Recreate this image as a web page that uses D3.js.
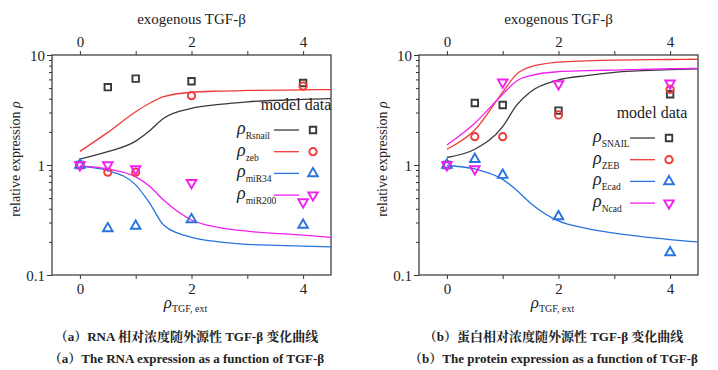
<!DOCTYPE html>
<html>
<head>
<meta charset="utf-8">
<script src="https://cdn.jsdelivr.net/npm/d3@7"></script>
<style>
  body { margin: 0; background: #fff; }
  svg { display: block; }
</style>
</head>
<body>
<svg id="chart" width="718" height="370"></svg>
<script>
// ------------------- Data -------------------
const tgfLevels = [0, 0.5, 1, 2, 4];
const xTicks = [0, 1, 2, 3, 4];
const xTickLabels = ["0", "", "2", "", "4"];
const yTickLabels = { 0.1: "0.1", 1: "1", 10: "10" };

// (a) RNA measurements
const rnaSnailData  = [1, 5.1, 6.1, 5.77, 5.57];
const rnaZebData    = [1, 0.86, 0.86, 4.27, 5.22];
const rnaMiR34Data  = [1, 0.265, 0.279, 0.32, 0.285];
const rnaMiR200Data = [1, 1.0, 0.92, 0.69, 0.46];

// (b) protein measurements
const protSnailData = [1, 3.66, 3.51, 3.12, 4.4];
const protZebData   = [1, 1.81, 1.81, 2.85, 4.88];
const protEcadData  = [1, 1.13, 0.81, 0.34, 0.16];
const protNcadData  = [1, 0.92, 5.65, 5.45, 5.53];

// model curves
const curveX = [0, 0.5, 1, 1.25, 1.5, 2, 2.5, 3, 4, 4.5];
const rnaSnailModel  = [1.13, 1.32, 1.65, 2.05, 2.66, 3.27, 3.55, 3.75, 3.95, 4.02];
const rnaZebModel    = [1.33, 1.98, 3.05, 3.64, 4.18, 4.58, 4.7, 4.76, 4.82, 4.85];
const rnaMiR34Model  = [0.97, 0.89, 0.66, 0.45, 0.285, 0.22, 0.2, 0.19, 0.183, 0.18];
const rnaMiR200Model = [0.98, 0.92, 0.78, 0.64, 0.48, 0.316, 0.27, 0.25, 0.23, 0.22];

const protSnailModel = [1.17, 1.39, 2.23, 3.5, 4.64, 5.93, 6.5, 6.95, 7.35, 7.5];
const protZebModel   = [1.39, 2.08, 4.6, 6.7, 7.8, 8.6, 8.85, 9.0, 9.1, 9.15];
const protEcadModel  = [0.99, 0.92, 0.74, 0.59, 0.45, 0.31, 0.265, 0.24, 0.21, 0.2];
const protNcadModel  = [1.52, 2.4, 4.4, 5.8, 6.5, 7.05, 7.2, 7.3, 7.5, 7.57];

const colors = { black: "#3a3a3a", red: "#f03a3a", blue: "#2874dc", magenta: "#f020f0" };
const SERIF = '"Liberation Serif", "Times New Roman", serif';
const CJK = '"Liberation Serif", "Noto Serif CJK SC", serif';

// ------------------- Setup -------------------
const svg = d3.select("#chart");

function txt(sel, size) {
  return sel.style("font-family", SERIF).style("font-size", size + "px").attr("fill", "#222");
}

function drawPanel(left, series, legendPos, caption) {
  const w = 279, top = 55, h = 220;
  const g = svg.append("g").attr("transform", `translate(${left},0)`);

  const x = d3.scaleLinear().domain([-0.5, 4.5]).range([0, w]);
  const y = d3.scaleLog().domain([0.1, 10]).range([top + h, top]);

  // frame
  g.append("rect")
    .attr("x", 0).attr("y", top).attr("width", w).attr("height", h)
    .attr("fill", "none").attr("stroke", "#333").attr("stroke-width", 1.2);

  // axes
  const xb = g.append("g").attr("transform", `translate(0,${top + h})`)
    .call(d3.axisBottom(x).tickValues(xTicks).tickSize(4).tickFormat((d, i) => xTickLabels[i]));
  const xt = g.append("g").attr("transform", `translate(0,${top})`)
    .call(d3.axisTop(x).tickValues(xTicks).tickSize(4).tickFormat((d, i) => xTickLabels[i]));
  const yMajor = [0.1, 1, 10];
  const yMinor = d3.range(2, 10).map(d => d / 10).concat(d3.range(2, 10));
  const yl = g.append("g")
    .call(d3.axisLeft(y).tickValues(yMajor).tickSize(5).tickFormat(d => yTickLabels[d]));
  const ym = g.append("g")
    .call(d3.axisLeft(y).tickValues(yMinor).tickSize(3).tickFormat(""));

  [xb, xt, yl, ym].forEach(a => {
    a.select(".domain").remove();
    a.selectAll("line").attr("stroke", "#333");
    txt(a.selectAll("text"), 15);
  });
  yl.selectAll("text").attr("dy", "0.35em").attr("x", -7);
  xb.selectAll("text").attr("y", 8);
  xt.selectAll("text").attr("y", -8);

  // titles
  txt(g.append("text"), 15).attr("x", w / 2).attr("y", 24).attr("text-anchor", "middle")
    .text("exogenous TGF-β");

  const xl = txt(g.append("text"), 17).attr("x", w / 2 - 6).attr("y", 308).attr("text-anchor", "middle");
  xl.append("tspan").style("font-style", "italic").text("ρ");
  xl.append("tspan").attr("dy", 4).style("font-size", "10px").text("TGF, ext");

  const yt = txt(g.append("text"), 14)
    .attr("transform", `translate(-32,${top + h / 2 - 6}) rotate(-90)`)
    .attr("text-anchor", "middle");
  yt.append("tspan").text("relative expression ");
  yt.append("tspan").style("font-style", "italic").text("ρ");

  // curves
  const line = d3.line()
    .x(d => x(d[0])).y(d => y(d[1]))
    .curve(d3.curveMonotoneX);

  series.forEach(s => {
    g.append("path")
      .datum(curveX.map((v, i) => [v, s.model[i]]))
      .attr("fill", "none").attr("stroke", s.color).attr("stroke-width", 1.3)
      .attr("d", line);
  });

  // markers
  const symbolFor = { square: d3.symbolSquare, circle: d3.symbolCircle, triangle: d3.symbolTriangle, down: d3.symbolTriangle };
  const sizeFor = { square: 42, circle: 42, triangle: 40, down: 40 };
  function marker(sel, s) {
    sel.attr("d", d3.symbol().type(symbolFor[s.shape]).size(sizeFor[s.shape])())
      .attr("fill", "none").attr("stroke", s.color).attr("stroke-width", 1.9);
  }
  series.forEach(s => {
    g.selectAll(null)
      .data(tgfLevels.map((v, i) => [v, s.data[i]]))
      .join("path")
      .call(marker, s)
      .attr("transform", d => `translate(${x(d[0])},${y(d[1])})${s.shape === "down" ? " rotate(180)" : ""}`);
  });

  // legend
  const lg = g.append("g").attr("transform", `translate(${legendPos[0]},${legendPos[1]})`);
  txt(lg.append("text"), 16).attr("x", 59).attr("y", 0).attr("text-anchor", "middle")
    .text("model data");
  series.forEach((s, i) => {
    const row = lg.append("g").attr("transform", `translate(0,${20 + i * 21.7})`);
    const t = txt(row.append("text"), 18).attr("x", 0).attr("y", 4);
    t.append("tspan").style("font-style", "italic").text("ρ");
    t.append("tspan").attr("dy", 5).style("font-size", "9.5px").text(s.name);
    row.append("line").attr("x1", 37).attr("x2", 62).attr("y1", 0).attr("y2", 0)
      .attr("stroke", s.color).attr("stroke-width", 1.3);
    row.append("path").call(marker, s)
      .attr("transform", `translate(76,0)${s.shape === "down" ? " rotate(180)" : ""}`);
  });

  // captions
  txt(g.append("text"), 13).style("font-family", CJK).style("font-weight", "bold")
    .attr("x", w / 2 - 5).attr("y", 341).attr("text-anchor", "middle")
    .text(caption[0]);
  txt(g.append("text"), 13).style("font-family", CJK).style("font-weight", "bold")
    .attr("x", w / 2 - 5).attr("y", 363).attr("text-anchor", "middle")
    .text(caption[1]);
}

drawPanel(52, [
  { name: "Rsnail", color: colors.black,   shape: "square",   data: rnaSnailData,  model: rnaSnailModel },
  { name: "zeb",    color: colors.red,     shape: "circle",   data: rnaZebData,    model: rnaZebModel },
  { name: "miR34",  color: colors.blue,    shape: "triangle", data: rnaMiR34Data,  model: rnaMiR34Model },
  { name: "miR200", color: colors.magenta, shape: "down",     data: rnaMiR200Data, model: rnaMiR200Model }
], [185, 110], ["（a）RNA 相对浓度随外源性 TGF-β 变化曲线", "（a）The RNA expression as a function of TGF-β"]);

drawPanel(419, [
  { name: "SNAIL", color: colors.black,   shape: "square",   data: protSnailData, model: protSnailModel },
  { name: "ZEB",   color: colors.red,     shape: "circle",   data: protZebData,   model: protZebModel },
  { name: "Ecad",  color: colors.blue,    shape: "triangle", data: protEcadData,  model: protEcadModel },
  { name: "Ncad",  color: colors.magenta, shape: "down",     data: protNcadData,  model: protNcadModel }
], [174, 118], ["（b）蛋白相对浓度随外源性 TGF-β 变化曲线", "（b）The protein expression as a function of TGF-β"]);
</script>
</body>
</html>
